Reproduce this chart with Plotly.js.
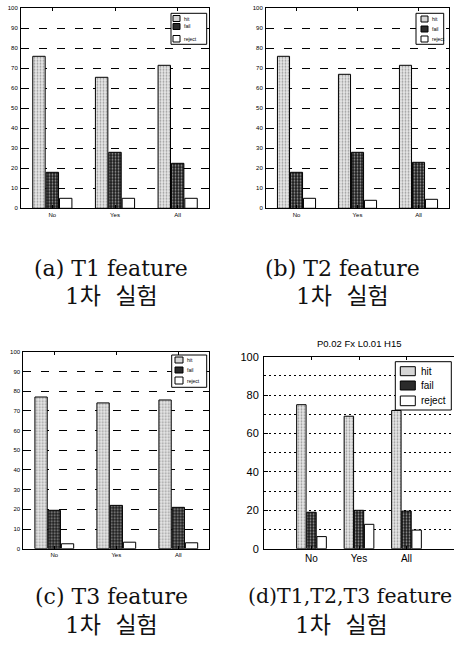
<!DOCTYPE html>
<html><head><meta charset="utf-8">
<script src="https://cdn.plot.ly/plotly-3.0.1.min.js"></script>
<style>html,body{margin:0;padding:0;overflow:hidden;background:#fff}#chart{width:454px;height:666px}</style>
</head><body><div id="chart"></div>
<script>
// ---------- data ----------
const categories = ['No', 'Yes', 'All'];
const seriesNames = ['hit', 'fail', 'reject'];
const t1Hit = [76, 65.5, 71.5];
const t1Fail = [18, 28, 22.5];
const t1Reject = [5, 5, 5];
const t2Hit = [76, 67, 71.5];
const t2Fail = [18, 28, 23];
const t2Reject = [5, 4, 4.5];
const t3Hit = [77, 74, 75.5];
const t3Fail = [19.5, 22, 21];
const t3Reject = [2.5, 3.3, 3];
const allHit = [75, 69, 72];
const allFail = [19, 20, 19.6];
const allReject = [6.3, 12.7, 9.7];
const yTickSmall = [0, 10, 20, 30, 40, 50, 60, 70, 80, 90, 100];
const yTickLarge = [0, 20, 40, 60, 80, 100];
const titleD = 'P0.02 Fx L0.01 H15';
const captionLine1 = ['(a) T1 feature', '(b) T2 feature', '(c) T3 feature', '(d)T1,T2,T3 feature'];
const captionLine2 = ['1차  실험', '1차  실험', '1차  실험', '1차  실험'];

// ---------- helpers ----------
const W = 454, H = 666;
const px = x => x / W;
const py = y => 1 - y / H;
const SANS = 'Liberation Sans, Arial, sans-serif';
const SERIF = 'DejaVu Serif, Noto Sans CJK KR, serif';

const markerStyles = [
  {color: '#e2e2e2', line: {color: '#000', width: 1},
   pattern: {shape: '.', bgcolor: '#e8e8e8', fgcolor: '#9a9a9a', size: 3, solidity: 0.3}},
  {color: '#1e1e1e', line: {color: '#000', width: 1},
   pattern: {shape: '.', bgcolor: '#1c1c1c', fgcolor: '#999999', size: 3, solidity: 0.3}},
  {color: '#ffffff', line: {color: '#000', width: 1}}
];
const swatchFill = ['#d6d6d6', '#2b2b2b', '#ffffff'];

function panelTraces(vals, ax) {
  const xa = ax === 1 ? 'x' : 'x' + ax;
  const ya = ax === 1 ? 'y' : 'y' + ax;
  return vals.map((v, i) => ({
    type: 'bar', x: categories, y: v, name: seriesNames[i],
    xaxis: xa, yaxis: ya, marker: markerStyles[i], showlegend: false, hoverinfo: 'skip'
  }));
}

const data = [
  ...panelTraces([t1Hit, t1Fail, t1Reject], 1),
  ...panelTraces([t2Hit, t2Fail, t2Reject], 2),
  ...panelTraces([t3Hit, t3Fail, t3Reject], 3),
  ...panelTraces([allHit, allFail, allReject], 4)
];

function smallX(x0, x1, yName) {
  return {domain: [px(x0), px(x1)], anchor: yName, type: 'category', range: [-0.5, 2.5],
    showline: true, linecolor: '#000', linewidth: 1, mirror: 'ticks',
    ticks: 'inside', ticklen: 3, tickcolor: '#000', tickfont: {size: 6, family: SANS, color: '#000'},
    showgrid: false, zeroline: false, fixedrange: true};
}
function smallY(y0, y1, xName) {
  return {domain: [py(y1), py(y0)], anchor: xName, range: [0, 100],
    tickmode: 'array', tickvals: yTickSmall, ticktext: yTickSmall.map(String),
    showline: true, linecolor: '#000', linewidth: 1, mirror: 'ticks',
    ticks: 'inside', ticklen: 3, tickcolor: '#000', tickfont: {size: 6, family: SANS, color: '#000'},
    ticklabelstandoff: 1,
    showgrid: true, gridcolor: '#000', gridwidth: 1, griddash: '8px,10px', zeroline: false, fixedrange: true};
}

const shapes = [];
const annotations = [];

function legend(box, swX, items, textX, fontSize, family) {
  shapes.push({type: 'rect', xref: 'paper', yref: 'paper', x0: px(box[0]), x1: px(box[1]),
    y0: py(box[3]), y1: py(box[2]), line: {color: '#000', width: 1}, fillcolor: '#fff', layer: 'above'});
  items.forEach((it, i) => {
    shapes.push({type: 'rect', xref: 'paper', yref: 'paper', x0: px(swX[0]), x1: px(swX[1]),
      y0: py(it[1]), y1: py(it[0]), line: {color: '#000', width: 1}, fillcolor: swatchFill[i], layer: 'above'});
    annotations.push({xref: 'paper', yref: 'paper', x: px(textX), y: py((it[0] + it[1]) / 2),
      xanchor: 'left', yanchor: 'middle', showarrow: false, text: seriesNames[i],
      font: {size: fontSize, family: family, color: '#000'}});
  });
}

legend([171, 206.7, 13.3, 44.3], [173, 180], [[15.5, 21.5], [23.5, 29.5], [35.5, 42]], 182, 5, SANS);
legend([416, 443.7, 13.3, 44.3], [421, 428], [[16, 22], [26, 32], [36, 42]], 430, 5, SANS);
legend([171.7, 206.7, 355, 387.3], [175, 183], [[357, 363], [367, 373], [377, 384]], 185, 5, SANS);
legend([395.3, 451.3, 361.7, 410], [400.3, 415.3], [[366.7, 375.7], [381, 390], [396, 405.7]], 419, 10, SANS);

// title of panel (d)
annotations.push({xref: 'paper', yref: 'paper', x: px(359), y: py(343.5), xanchor: 'center', yanchor: 'middle',
  showarrow: false, text: titleD, font: {size: 9.5, family: SANS, color: '#000'}});

// captions
const capPos = [
  {x: 111, y1: 269, y2: 296, anchor: 'center', s1: 22},
  {x: 342.5, y1: 269, y2: 296, anchor: 'center', s1: 22},
  {x: 111.7, y1: 596, y2: 625, anchor: 'center', s1: 22},
  {x: 246, y1: 596, y2: 625, anchor: 'left', x2: 341.7, s1: 20.5}
];
capPos.forEach((c, i) => {
  annotations.push({xref: 'paper', yref: 'paper', x: px(c.x), y: py(c.y1), xanchor: c.anchor, yanchor: 'middle',
    showarrow: false, text: captionLine1[i], font: {size: c.s1, family: SERIF, color: '#111'}});
  annotations.push({xref: 'paper', yref: 'paper', x: px(c.x2 || c.x), y: py(c.y2), xanchor: 'center', yanchor: 'middle',
    showarrow: false, text: captionLine2[i], font: {size: 23, family: SERIF, color: '#111'}});
});

const layout = {
  width: W, height: H, margin: {l: 0, r: 0, t: 0, b: 0}, paper_bgcolor: '#fff', plot_bgcolor: '#fff',
  barmode: 'group', bargap: 0.36, bargroupgap: 0.07, showlegend: false,
  xaxis: smallX(21, 209, 'y'), yaxis: smallY(8.3, 208.3, 'x'),
  xaxis2: smallX(266, 449, 'y2'), yaxis2: smallY(8.3, 208.3, 'x2'),
  xaxis3: smallX(23.3, 209.3, 'y3'), yaxis3: smallY(351.7, 548.7, 'x3'),
  xaxis4: {domain: [px(264), 1], anchor: 'y4', type: 'category', range: [-1, 3],
    showline: true, linecolor: '#000', linewidth: 1, mirror: 'ticks',
    ticks: 'inside', ticklen: 3, tickcolor: '#000', tickfont: {size: 10, family: SANS, color: '#000'},
    showgrid: false, zeroline: false, fixedrange: true},
  yaxis4: {domain: [py(548.7), py(356.7)], anchor: 'x4', range: [0, 100],
    tickmode: 'array', tickvals: yTickLarge, ticktext: yTickLarge.map(String),
    showline: true, linecolor: '#000', linewidth: 1, mirror: false,
    ticks: 'inside', ticklen: 4, tickcolor: '#000', tickfont: {size: 11, family: SANS, color: '#000'},
    ticklabelstandoff: 2,
    showgrid: true, gridcolor: '#000', gridwidth: 1, griddash: '2px,3px', zeroline: false, fixedrange: true,
    minor: {dtick: 10, tick0: 0, showgrid: true, gridcolor: '#000', gridwidth: 1, griddash: '2px,3px', ticks: ''}},
  shapes: shapes,
  annotations: annotations
};

Plotly.newPlot('chart', data, layout, {staticPlot: true, displayModeBar: false});
</script>
</body></html>
